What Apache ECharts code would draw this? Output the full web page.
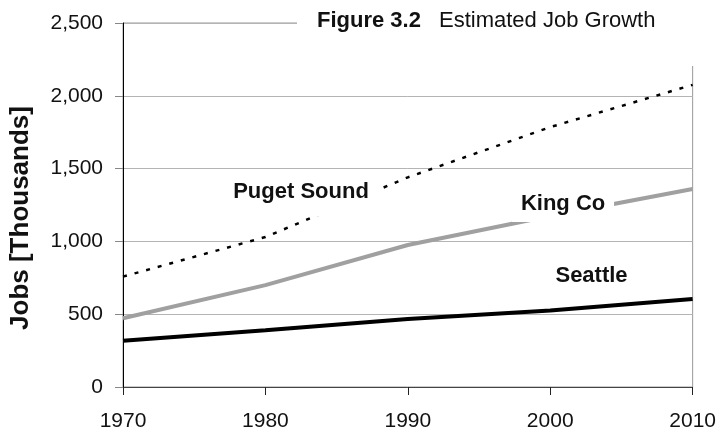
<!DOCTYPE html>
<html>
<head>
<meta charset="utf-8">
<script src="https://cdn.jsdelivr.net/npm/echarts@6/dist/echarts.min.js"></script>
<style>
html,body{margin:0;padding:0;background:#fff;}
#c{width:719px;height:437px;}
</style>
</head>
<body>
<div id="c"></div>
<script>
var years = [1970, 1980, 1990, 2000, 2010];
var seattle = [318, 390, 467, 525, 605];
var kingCo = [472, 700, 975, 1175, 1360];
var pugetSound = [758, 1030, 1440, 1785, 2075];
var yTicks = [0, 500, 1000, 1500, 2000, 2500];

var FONT = "'Liberation Sans', Arial, sans-serif";

function pairs(vals) { return years.map(function (y, i) { return [y, vals[i]]; }); }

var chart = echarts.init(document.getElementById('c'), null, {renderer: 'canvas'});
chart.setOption({
  animation: false,
  backgroundColor: '#fff',
  grid: {left: 123, right: 26, top: 23, bottom: 50, show: true, borderColor: '#999', borderWidth: 1, backgroundColor: 'transparent'},
  xAxis: {
    type: 'value', min: years[0], max: years[years.length - 1], interval: 10,
    axisLine: {show: true, lineStyle: {color: '#444', width: 1}},
    axisTick: {show: true, length: 8, lineStyle: {color: '#222'}},
    splitLine: {show: false},
    axisLabel: {fontFamily: FONT, fontSize: 21, color: '#111', margin: 24, formatter: function (v) { return String(v); }}
  },
  yAxis: {
    type: 'value', min: yTicks[0], max: yTicks[yTicks.length - 1], interval: 500,
    axisLine: {show: true, onZero: false, lineStyle: {color: '#000', width: 1}},
    axisTick: {show: true, length: 8, lineStyle: {color: '#888'}},
    splitLine: {show: true, lineStyle: {color: '#b4b4b4', width: 1}},
    axisLabel: {fontFamily: FONT, fontSize: 21, color: '#111', margin: 20, formatter: function (v) { return v.toLocaleString('en-US'); }}
  },
  series: [
    {
      name: 'Puget Sound', type: 'line', data: pairs(pugetSound), symbol: 'none', z: 3,
      lineStyle: {color: '#000', width: 2.5, type: [4, 8]},
      markPoint: {
        symbol: 'rect', symbolSize: [158, 45], itemStyle: {color: '#fff'}, silent: true,
        label: {show: true, position: 'inside', offset: [0, -2], formatter: 'Puget Sound', fontFamily: FONT, fontSize: 22, fontWeight: 'bold', color: '#111'},
        data: [{coord: [1982.5, 1325]}]
      }
    },
    {
      name: 'King Co', type: 'line', data: pairs(kingCo), symbol: 'none', z: 4,
      lineStyle: {color: '#a0a0a0', width: 4},
      markPoint: {
        symbol: 'rect', symbolSize: [102, 36], itemStyle: {color: '#fff'}, silent: true,
        label: {show: true, position: 'inside', formatter: 'King Co', fontFamily: FONT, fontSize: 22, fontWeight: 'bold', color: '#111'},
        data: [{coord: [2000.9, 1257]}]
      }
    },
    {
      name: 'Seattle', type: 'line', data: pairs(seattle), symbol: 'none', z: 5,
      lineStyle: {color: '#000', width: 4},
      markPoint: {
        symbol: 'rect', symbolSize: [1, 1], itemStyle: {color: 'rgba(0,0,0,0)'}, silent: true,
        label: {show: true, position: 'inside', formatter: 'Seattle', fontFamily: FONT, fontSize: 22, fontWeight: 'bold', color: '#111'},
        data: [{coord: [2002.9, 762]}]
      }
    }
  ],
  graphic: [
    {type: 'rect', left: 297, top: 0, shape: {width: 422, height: 66}, style: {fill: '#fff'}, z: 100},
    {
      type: 'text', x: 317, y: 21, z: 101,
      style: {text: 'Figure 3.2', fontFamily: FONT, fontSize: 22, fontWeight: 'bold', fill: '#111', align: 'left', verticalAlign: 'middle'}
    },
    {
      type: 'text', x: 439, y: 21, z: 101,
      style: {text: 'Estimated Job Growth', fontFamily: FONT, fontSize: 22, fill: '#111', align: 'left', verticalAlign: 'middle'}
    },
    {
      type: 'text', x: 21, y: 218, rotation: Math.PI / 2, z: 101,
      style: {text: 'Jobs [Thousands]', fontFamily: FONT, fontSize: 26, fontWeight: 'bold', fill: '#111', align: 'center', verticalAlign: 'middle'}
    }
  ]
});
</script>
</body>
</html>
